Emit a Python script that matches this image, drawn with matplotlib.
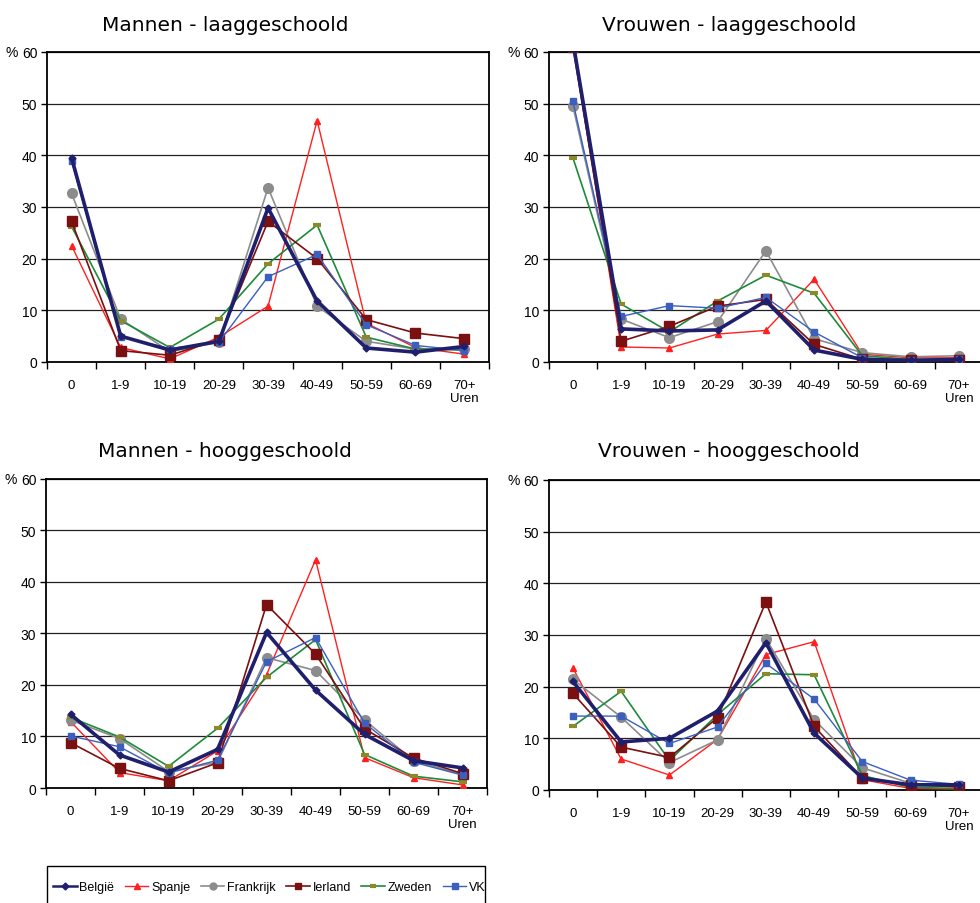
import matplotlib
matplotlib.use('Agg')
import matplotlib.pyplot as plt
from matplotlib.patches import Rectangle
import numpy as np

plt.rcParams['font.family'] = ['Liberation Sans', 'DejaVu Sans']

# ---------- data (percentages) ----------
categories = ['0', '1-9', '10-19', '20-29', '30-39', '40-49', '50-59', '60-69', '70+\nUren']
countries = ['België', 'Spanje', 'Frankrijk', 'Ierland', 'Zweden', 'VK']

mannen_laag = {
    'België':    [39.5, 5.0, 2.3, 4.0, 29.8, 11.8, 2.7, 1.9, 3.0],
    'Spanje':    [22.5, 2.8, 0.6, 4.8, 10.8, 46.7, 7.5, 2.8, 1.5],
    'Frankrijk': [32.6, 8.3, 2.0, 3.8, 33.7, 10.8, 4.0, 2.5, 2.5],
    'Ierland':   [27.2, 2.2, 1.3, 4.3, 27.2, 20.0, 8.2, 5.6, 4.5],
    'Zweden':    [26.2, 8.0, 2.8, 8.3, 19.0, 26.5, 4.8, 2.5, 2.3],
    'VK':        [38.8, 4.8, 2.6, 3.8, 16.5, 20.8, 7.2, 3.2, 2.2],
}
vrouwen_laag = {
    'België':    [62.0, 6.4, 6.0, 6.2, 11.8, 2.3, 0.5, 0.3, 0.5],
    'Spanje':    [61.5, 2.9, 2.7, 5.4, 6.1, 16.0, 1.5, 0.8, 0.8],
    'Frankrijk': [49.5, 8.3, 4.7, 7.8, 21.5, 4.5, 1.8, 1.0, 1.2],
    'Ierland':   [61.0, 4.0, 6.9, 10.8, 12.1, 3.4, 0.5, 0.3, 0.3],
    'Zweden':    [39.5, 11.2, 5.8, 11.8, 16.8, 13.3, 1.2, 0.5, 0.5],
    'VK':        [50.4, 8.8, 10.9, 10.4, 12.5, 5.8, 0.8, 0.3, 0.5],
}
mannen_hoog = {
    'België':    [14.3, 6.4, 3.1, 7.5, 30.2, 19.0, 10.4, 5.3, 3.9],
    'Spanje':    [12.9, 3.0, 1.4, 7.2, 22.0, 44.3, 5.9, 2.0, 0.6],
    'Frankrijk': [13.2, 9.6, 3.2, 5.0, 25.3, 22.8, 13.2, 5.3, 2.6],
    'Ierland':   [8.8, 3.8, 1.4, 4.9, 35.6, 26.0, 11.5, 5.8, 2.8],
    'Zweden':    [13.7, 9.9, 4.2, 11.6, 21.5, 28.8, 6.5, 2.3, 1.2],
    'VK':        [10.1, 8.0, 2.9, 5.4, 24.5, 29.2, 12.6, 5.0, 2.5],
}
vrouwen_hoog = {
    'België':    [21.0, 9.3, 10.0, 15.3, 28.5, 11.0, 2.3, 1.0, 1.0],
    'Spanje':    [23.6, 6.0, 2.9, 9.8, 26.2, 28.7, 2.0, 0.3, 0.2],
    'Frankrijk': [21.4, 14.1, 5.3, 9.7, 29.3, 13.6, 4.3, 1.3, 0.7],
    'Ierland':   [18.7, 8.3, 6.3, 14.0, 36.4, 12.3, 2.3, 1.0, 0.6],
    'Zweden':    [12.3, 19.1, 5.7, 14.6, 22.5, 22.3, 2.8, 0.5, 0.3],
    'VK':        [14.3, 14.3, 9.0, 12.2, 24.5, 17.6, 5.5, 1.9, 1.1],
}

# line styles per country
styles = {
    'België':    dict(color='#1f1f6e', lw=2.6, marker='D', ms=3.5, mfc='#1f1f6e', mec='#1f1f6e', zorder=6),
    'Spanje':    dict(color='#ff2020', lw=1.0, marker='^', ms=5, mfc='#ff2020', mec='#ff2020', zorder=3),
    'Frankrijk': dict(color='#8c8c8c', lw=1.2, marker='o', ms=7, mfc='#8c8c8c', mec='#8c8c8c', zorder=3),
    'Ierland':   dict(color='#7a1010', lw=1.2, marker='s', ms=7, mfc='#7a1010', mec='#7a1010', zorder=4),
    'Zweden':    dict(color='#1e8a3a', lw=1.2, marker='_', ms=6, mew=3, mfc='#8a8a2a', mec='#8a8a2a', zorder=3),
    'VK':        dict(color='#3a5fbf', lw=1.0, marker='s', ms=4, mfc='#3a5fbf', mec='#3a5fbf', zorder=5),
}

panels = [
    ('Mannen - laaggeschoold', mannen_laag, [0.048, 0.5985, 0.451, 0.343], (0.230, 0.972)),
    ('Vrouwen - laaggeschoold', vrouwen_laag, [0.560, 0.5985, 0.443, 0.343], (0.744, 0.972)),
    ('Mannen - hooggeschoold', mannen_hoog, [0.047, 0.1272, 0.450, 0.342], (0.230, 0.500)),
    ('Vrouwen - hooggeschoold', vrouwen_hoog, [0.560, 0.125, 0.443, 0.343], (0.744, 0.500)),
]

fig = plt.figure(figsize=(9.8, 9.04), dpi=100)
x = np.arange(len(categories))

for title, data, rect, tpos in panels:
    ax = fig.add_axes(rect)
    for c in countries:
        ax.plot(x, data[c], label=c, **styles[c])
    ax.set_xlim(-0.5, len(categories) - 0.5)
    ax.set_ylim(0, 60)
    ax.set_yticks(range(0, 61, 10))
    ax.yaxis.grid(True, color='#222222', lw=0.9)
    ax.set_axisbelow(True)
    # ticks at category boundaries, labels at centres
    ax.set_xticks(np.arange(-0.5, len(categories), 1.0))
    ax.set_xticklabels([])
    ax.set_xticks(x, minor=True)
    ax.set_xticklabels(categories, minor=True, fontsize=9.5)
    ax.tick_params(axis='x', which='major', length=5, width=1, direction='out')
    ax.tick_params(axis='x', which='minor', length=0, pad=12)
    ax.tick_params(axis='y', length=4, width=1, labelsize=10, pad=3)
    for s in ax.spines.values():
        s.set_color('black')
        s.set_linewidth(1.3)
    ax.text(-0.066, 1.0, '%', transform=ax.transAxes, ha='right', va='center', fontsize=10)
    fig.text(tpos[0], tpos[1], title, ha='center', va='center', fontsize=14.5,
             family='DejaVu Sans')
    if title.startswith('Mannen - hoog'):
        handles, labels = ax.get_legend_handles_labels()

# legend box runs off the bottom edge in the original
fig.patches.append(Rectangle((0.048, -0.02), 0.447, 0.061, transform=fig.transFigure,
                             fill=False, edgecolor='black', lw=1.0))
leg = fig.legend(handles, labels, loc='center left', bbox_to_anchor=(0.054, 0.0177),
                 ncol=6, fontsize=9, frameon=False,
                 handlelength=1.9, handletextpad=0.2, columnspacing=0.85,
                 borderpad=0.0, borderaxespad=0.0)
for h in leg.legend_handles:
    h.set_markersize(min(h.get_markersize(), 5))
    if h.get_linewidth() > 2:
        h.set_linewidth(1.8)

fig.savefig('out.png', dpi=100)
